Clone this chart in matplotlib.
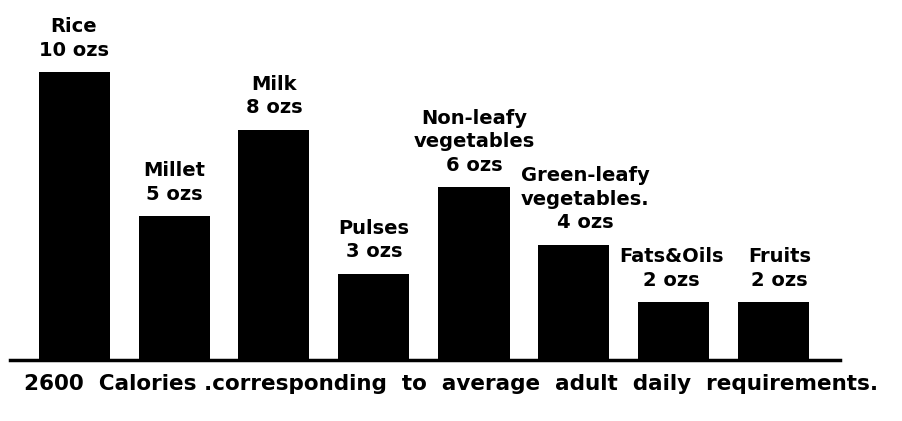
import matplotlib.pyplot as plt
import numpy as np

# Data
foods = ['Rice', 'Millet', 'Milk', 'Pulses', 'Non-leafy\nvegetables',
         'Green-leafy\nvegetables.', 'Fats&Oils', 'Fruits']
ozs = [10, 5, 8, 3, 6, 4, 2, 2]
caption = '2600  Calories .corresponding  to  average  adult  daily  requirements.'

fig = plt.figure(figsize=(9.02, 4.21), dpi=100)
# axes placed so the baseline runs across the lower part of the picture
ax = fig.add_axes([10 / 902, 61 / 421, 830 / 902, 360 / 421])

x = np.arange(len(foods))
ax.bar(x, ozs, width=0.71, color='black')

ax.set_xlim(-0.64, 7.66)
ax.set_ylim(0, 12.5)

# only the baseline remains
for side in ['top', 'right', 'left']:
    ax.spines[side].set_visible(False)
ax.spines['bottom'].set_linewidth(2.5)
ax.set_xticks([])
ax.set_yticks([])

# labels above each bar
shifts = [0, 0, 0, 0, 0, 8, -2, 4]
for i, (name, v) in enumerate(zip(foods, ozs)):
    ax.annotate(f'{name}\n{v} ozs', (x[i], v), xytext=(shifts[i], 9),
                textcoords='offset points', ha='center', va='bottom',
                fontsize=14, fontweight='bold', linespacing=1.3)

fig.text(0.5, 1 - 384 / 421, caption, ha='center', va='center',
         fontsize=15.5, fontweight='bold')

fig.savefig('out.png', dpi=100)
